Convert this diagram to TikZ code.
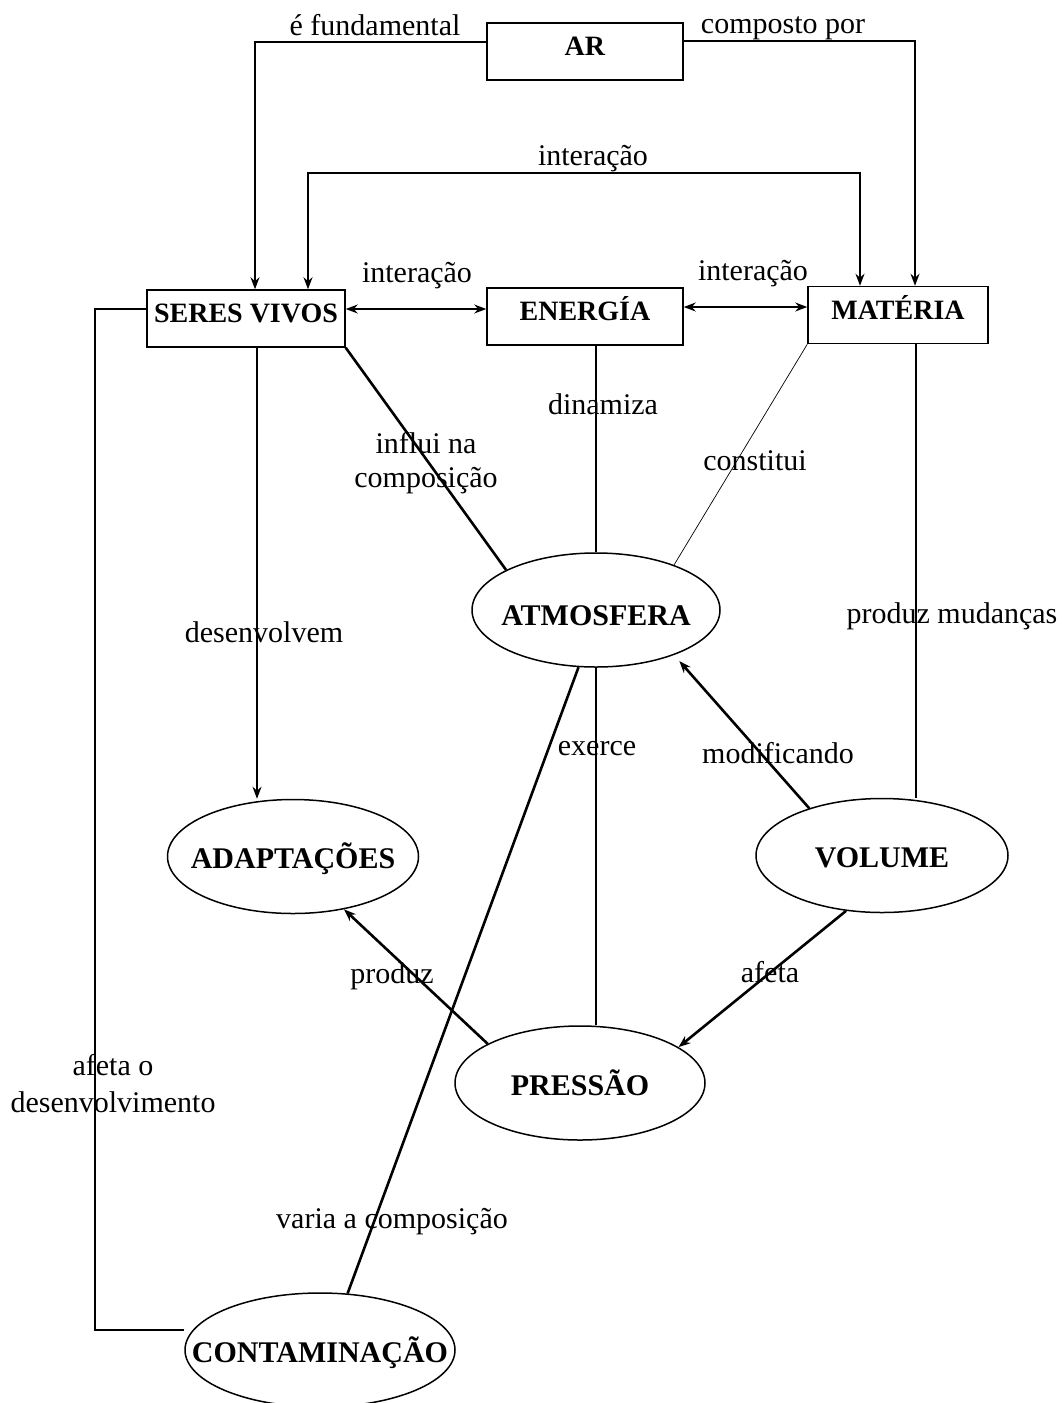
\documentclass[tikz,border=0pt]{standalone}
\usepackage{fontspec}
\setmainfont{Liberation Serif}
\usetikzlibrary{arrows.meta,shapes.geometric}
\newcommand{\bxt}[1]{\raisebox{-2pt}[0pt][0pt]{\fontsize{14pt}{16pt}\selectfont\textbf{#1}}}
\newcommand{\elt}[2][-6pt]{\makebox[0pt]{\raisebox{#1}[0pt][0pt]{\textbf{#2}}}}
\begin{document}
\begin{tikzpicture}[x=0.5pt,y=-0.5pt,
  font=\fontsize{15pt}{17pt}\selectfont,
  conn/.style={line width=0.7pt},
  heavy/.style={line width=1.3pt},
  faint/.style={line width=0.35pt},
  arr/.style={-{Stealth[length=6pt,width=4.5pt]}},
  darr/.style={{Stealth[length=6pt,width=4.5pt]}-{Stealth[length=6pt,width=4.5pt]}},
  boxnode/.style={draw,line width=0.75pt,inner sep=0pt,minimum width=#1,minimum height=28.5pt},
  ell/.style={draw,ellipse,line width=0.75pt,inner sep=0pt,minimum height=57pt,minimum width=#1},
  lbl/.style={anchor=base,inner sep=0pt}
]
\useasboundingbox (0,0) rectangle (1061,1403);

% concept nodes
\node[boxnode=98pt] (ar) at (585,51.5) {\bxt{AR}};
\node[boxnode=99pt] (seres) at (246,318.5) {\bxt{SERES VIVOS}};
\node[boxnode=98pt] (energia) at (585,316.5) {\bxt{ENERGÍA}};
\node[boxnode=90pt] (materia) at (898,315) {\bxt{MATÉRIA}};
\node[ell=124pt] (atm) at (596,610) {\elt[-7.5pt]{ATMOSFERA}};
\node[ell=125.5pt] (adapt) at (293,856.5) {\elt{ADAPTAÇÕES}};
\node[ell=126pt] (volume) at (882,855.5) {\elt{VOLUME}};
\node[ell=125pt] (pressao) at (580,1083) {\elt{PRESSÃO}};
\node[ell=135pt] (contam) at (320,1350) {\elt{CONTAMINAÇÃO}};

% connectors
\draw[conn,arr] (ar.west |- 0,42) -| (255,0 |- seres.north);
\draw[conn,arr] (ar.east |- 0,41) -| (915,0 |- materia.north);
\draw[conn,darr] (308,0 |- seres.north) |- (860,173) -- (860,0 |- materia.north);
\draw[conn,darr] (seres.east |- 0,309) -- (energia.west |- 0,309);
\draw[conn,darr] (energia.east |- 0,307) -- (materia.west |- 0,307);
\draw[heavy] (seres.south east) -- (atm.156);
\draw[conn] (energia.south -| atm.north) -- (atm.north);
\draw[faint] (materia.south west) -- (atm.30);
\draw[conn] (materia.south -| 916,0) -- (volume.north -| 916,0);
\draw[conn,arr] (seres.south -| 257,0) -- (adapt.north -| 257,0);
\draw[conn] (atm.south) -- (pressao.north -| atm.south);
\draw[heavy] (atm.253) -- (contam.64);
\draw[heavy,arr,shorten >=4pt] (volume.147) -- (atm.330);
\draw[heavy,arr] (volume.237) -- (pressao.20);
\draw[heavy,arr] (pressao.157) -- (adapt.314);
\draw[line width=1pt] (seres.west |- 0,309) -| (95,1330) -- (contam.west |- 0,1330);

% labels
\node[lbl] (l1) at (375,35) {é fundamental};
\node[lbl] (l2) at (783,33) {composto por};
\node[lbl] (l3) at (593,165) {interação};
\node[lbl] (l4) at (417,282) {interação};
\node[lbl] (l5) at (753,280) {interação};
\node[lbl] (l6) at (603,414) {dinamiza};
\node[lbl] (l7) at (426,453) {influi na};
\node[lbl] (l8) at (426,487) {composição};
\node[lbl] (l9) at (755,470) {constitui};
\node[lbl] (l10) at (952,623) {produz mudanças};
\node[lbl] (l11) at (264,642) {desenvolvem};
\node[lbl] (l12) at (597,755) {exerce};
\node[lbl] (l13) at (778,763) {modificando};
\node[lbl] (l14) at (392,983) {produz};
\node[lbl] (l15) at (770,982) {afeta};
\node[lbl] (l16) at (113,1075) {afeta o};
\node[lbl] (l17) at (113,1112) {desenvolvimento};
\node[lbl] (l18) at (392,1228) {varia a composição};
\end{tikzpicture}
\end{document}
